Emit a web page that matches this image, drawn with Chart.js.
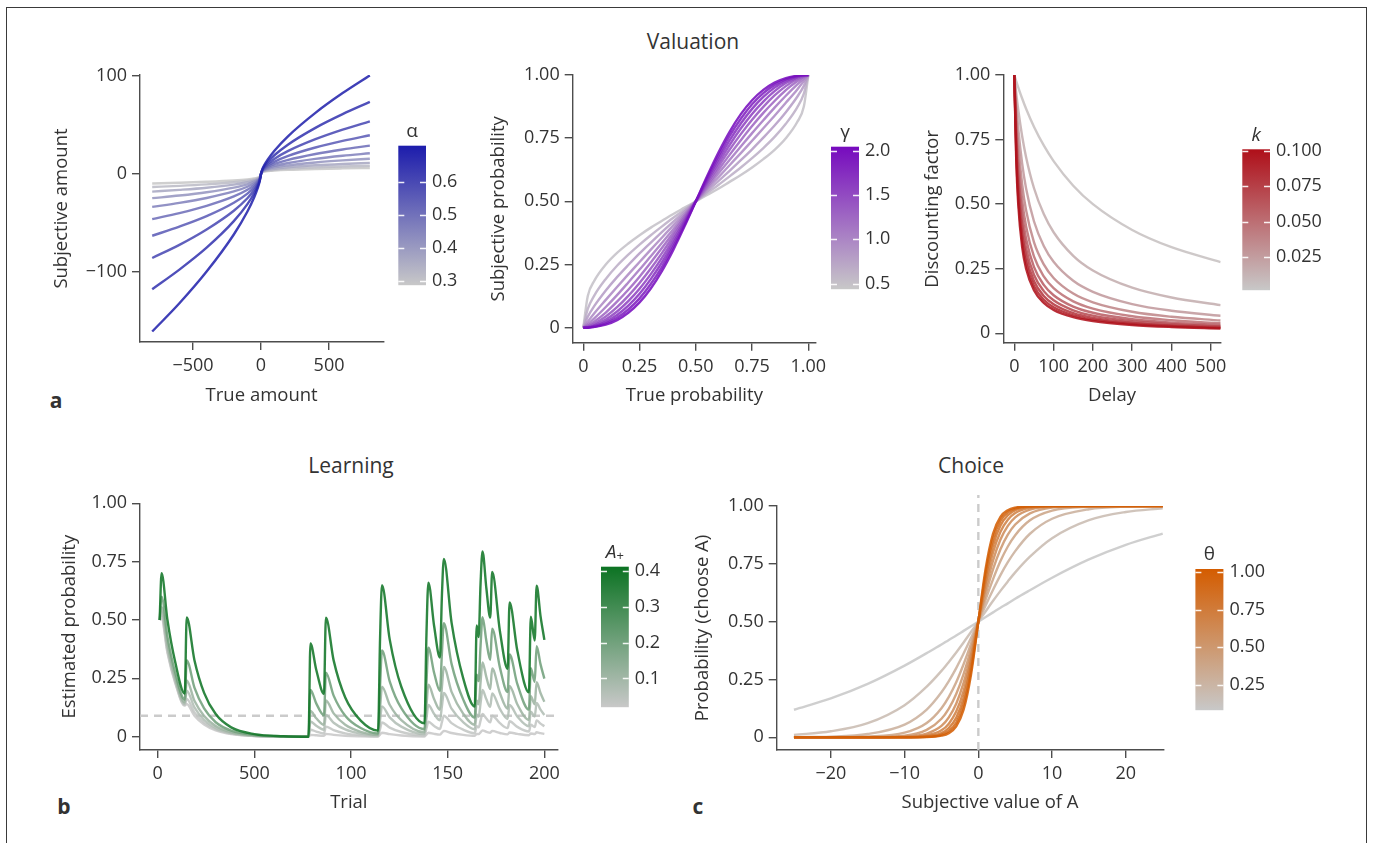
<!DOCTYPE html>
<html><head><meta charset="utf-8">
<script src="https://cdn.jsdelivr.net/npm/chart.js@4.4.0/dist/chart.umd.min.js"></script>
<style>
body{margin:0;background:#fff;width:1373px;height:843px;overflow:hidden;position:relative;font-family:'Open Sans',sans-serif;color:#333}
.frame{position:absolute;left:6px;top:7px;width:1361px;height:900px;border:1.4px solid #3a3a3a;box-sizing:border-box}
canvas{position:absolute}
.lbl{position:absolute;white-space:nowrap;transform:translate(-50%,-50%);line-height:1}
</style></head><body>
<div class="frame"></div>
<div class="lbl" style="left:693px;top:41px;font-size:21px">Valuation</div>
<div class="lbl" style="left:351px;top:465px;font-size:21px">Learning</div>
<div class="lbl" style="left:971px;top:465px;font-size:21px">Choice</div>
<div class="lbl" style="left:56px;top:400px;font-size:21px;font-weight:bold">a</div>
<div class="lbl" style="left:64px;top:806px;font-size:21px;font-weight:bold">b</div>
<div class="lbl" style="left:698px;top:806px;font-size:21px;font-weight:bold">c</div>
<script>
// ---------------- DATA ----------------
// Panel a: subjective amount
const amountX = [-800,-600,-400,-200,-100,-50,-25,-10,0,10,25,50,100,200,400,600,800];
const alphaVals = [0.69,0.643,0.596,0.55,0.503,0.456,0.41,0.363,0.317,0.27];
const subjAmount = [
 [-161.1,-132.2,-99.8,-61.9,-38.4,-23.8,-14.75,-7.84,0,4.90,9.22,14.87,23.99,38.7,62.4,82.6,100.7],
 [-117.8,-97.8,-75.4,-48.3,-30.9,-19.8,-12.67,-7.04,0,4.40,7.92,12.37,19.32,30.16,47.1,61.1,73.6],
 [-85.9,-72.5,-56.8,-37.6,-24.9,-16.5,-10.9,-6.30,0,3.94,6.81,10.29,15.56,23.5,35.5,45.3,53.7],
 [-63.2,-53.9,-43.2,-29.5,-20.1,-13.8,-9.39,-5.68,0,3.55,5.87,8.60,12.59,18.43,26.98,33.7,39.5],
 [-46.2,-40.0,-32.6,-23.0,-16.2,-11.4,-8.08,-5.09,0,3.18,5.05,7.15,10.14,14.37,20.36,25.0,28.86],
 [-33.7,-29.6,-24.6,-17.9,-13.1,-9.52,-6.94,-4.58,0,2.86,4.34,5.95,8.17,11.2,15.36,18.5,21.08],
 [-24.8,-22.1,-18.7,-14.0,-10.6,-7.95,-5.98,-4.11,0,2.57,3.74,4.97,6.61,8.78,11.66,13.8,15.5],
 [-18.1,-16.3,-14.1,-10.9,-8.51,-6.62,-5.15,-3.70,0,2.31,3.22,4.14,5.32,6.84,8.80,10.2,11.32],
 [-13.3,-12.2,-10.7,-8.58,-6.90,-5.54,-4.43,-3.31,0,2.07,2.77,3.46,4.31,5.36,6.68,7.6,8.32],
 [-9.73,-9.0,-8.06,-6.69,-5.55,-4.61,-3.82,-2.98,0,1.86,2.39,2.88,3.47,4.18,5.04,5.62,6.08]
];
const alphaRange = [0.288, 0.709];
const alphaTicks = [0.3,0.4,0.5,0.6];
const alphaLabels = ['0.3','0.4','0.5','0.6'];
const amountXTicks = [-500,0,500], amountXLabels = ['\u2212500','0','500'];
const amountYTicks = [-100,0,100], amountYLabels = ['\u2212100','0','100'];

// Panel: subjective probability
const probX = [0,0.02,0.05,0.1,0.15,0.2,0.25,0.3,0.35,0.4,0.45,0.5,0.55,0.6,0.65,0.7,0.75,0.8,0.85,0.9,0.95,0.98,1];
const gammaVals = [0.5,0.65,0.8,0.95,1.1,1.25,1.4,1.55,1.7,1.85,2.0];
const subjProb = [
 [0,.125,.187,.25,.296,.333,.366,.396,.423,.450,.475,.5,.525,.550,.577,.604,.634,.667,.704,.75,.813,.875,1],
 [0,.074,.129,.193,.245,.289,.329,.366,.401,.435,.467,.5,.533,.565,.599,.634,.671,.711,.755,.807,.871,.926,1],
 [0,.043,.087,.147,.2,.248,.294,.337,.379,.42,.46,.5,.54,.58,.621,.663,.706,.752,.8,.853,.913,.957,1],
 [0,.024,.058,.11,.161,.211,.26,.309,.357,.405,.452,.5,.548,.595,.643,.691,.74,.789,.839,.89,.942,.976,1],
 [0,.014,.038,.082,.129,.179,.23,.283,.336,.39,.445,.5,.555,.61,.664,.717,.77,.821,.871,.918,.962,.986,1],
 [0,.008,.025,.06,.103,.15,.202,.258,.316,.376,.438,.5,.562,.624,.684,.742,.798,.85,.897,.94,.975,.992,1],
 [0,.004,.016,.044,.081,.126,.177,.234,.296,.362,.43,.5,.57,.638,.704,.766,.823,.874,.919,.956,.984,.996,1],
 [0,.002,.01,.032,.064,.105,.154,.212,.277,.348,.423,.5,.577,.652,.723,.788,.846,.895,.936,.968,.99,.998,1],
 [0,.001,.007,.023,.05,.087,.134,.192,.259,.334,.416,.5,.584,.666,.741,.808,.866,.913,.95,.977,.993,.999,1],
 [0,.001,.004,.017,.039,.072,.116,.173,.241,.321,.408,.5,.592,.679,.759,.827,.884,.928,.961,.983,.996,.999,1],
 [0,0,.003,.012,.03,.059,.1,.155,.225,.308,.401,.5,.599,.692,.775,.845,.9,.941,.97,.988,.997,1,1]
];
const gammaRange = [0.437, 2.044];
const gammaTicks = [0.5,1,1.5,2], gammaLabels = ['0.5','1.0','1.5','2.0'];
const probTicks = [0,0.25,0.5,0.75,1], probLabels = ['0','0.25','0.50','0.75','1.00'];

// Panel: discounting
const delayX = [0,5,10,20,30,50,75,100,150,200,300,400,525];
const kVals = [0.005,0.0156,0.0261,0.0367,0.0472,0.0578,0.0683,0.0789,0.0894,0.1];
const discount = [
 [1,.9756,.9524,.9091,.8696,.8,.7273,.6667,.5714,.5,.4,.3333,.2759],
 [1,.9278,.8654,.7627,.6818,.5625,.4615,.3913,.3,.2432,.1765,.1385,.1091],
 [1,.8845,.793,.6569,.5607,.4337,.338,.2769,.2034,.1607,.1132,.0874,.068],
 [1,.8451,.7317,.5769,.4762,.3529,.2667,.2143,.1538,.12,.0833,.0638,.0494],
 [1,.809,.6792,.5143,.4138,.2975,.2202,.1748,.1237,.0957,.0659,.0503,.0388],
 [1,.7759,.6338,.4639,.3659,.2571,.1875,.1475,.1034,.0796,.0545,.0415,.0319],
 [1,.7453,.5941,.4225,.3279,.2264,.1633,.1277,.0889,.0682,.0465,.0353,.0271],
 [1,.7171,.559,.3879,.297,.2022,.1446,.1125,.0779,.0596,.0405,.0307,.0236],
 [1,.691,.5279,.3586,.2715,.1827,.1297,.1006,.0694,.0529,.0359,.0272,.0209],
 [1,.6667,.5,.3333,.25,.1667,.1176,.0909,.0625,.0476,.0323,.0244,.0187]
];
const kRange = [0.00167, 0.101];
const kTicks = [0.025,0.05,0.075,0.1], kLabels = ['0.025','0.050','0.075','0.100'];
const delayTicks = [0,100,200,300,400,500], delayLabels = ['0','100','200','300','400','500'];

// Panel b: learning
const trialX = [1,2,5,9,14,15,19,24,30,38,50,65,78,79,82,86,87,91,97,105,114,115,116,120,126,138,139,140,143,146,147,148,152,158,164,165,166,167,168,170,172,173,177,181,182,186,192,193,195,196,198,200];
const aPlusVals = [0.4,0.2,0.11,0.065,0.03,0.008];
const estProb = [
 [.5,.7,.502,.322,.185,.511,.328,.188,.097,.04,.011,.002,0,.4,.287,.184,.51,.327,.168,.069,.026,.415,.649,.417,.214,.057,.434,.66,.473,.339,.603,.762,.489,.251,.129,.477,.427,.656,.794,.636,.51,.706,.453,.291,.575,.369,.19,.514,.412,.647,.518,.415],
 [.5,.6,.43,.276,.159,.327,.21,.121,.062,.026,.007,.001,0,.2,.143,.092,.274,.176,.09,.037,.014,.211,.369,.237,.122,.032,.226,.381,.273,.196,.357,.486,.312,.16,.082,.266,.238,.39,.512,.41,.329,.463,.297,.191,.352,.226,.116,.293,.235,.388,.311,.249],
 [.5,.555,.398,.255,.147,.241,.154,.089,.046,.019,.005,.001,0,.11,.079,.051,.155,.1,.051,.021,.008,.117,.214,.137,.071,.019,.127,.223,.16,.115,.212,.299,.192,.099,.051,.155,.139,.234,.318,.255,.204,.292,.187,.12,.217,.139,.072,.174,.139,.234,.187,.15],
 [.5,.533,.382,.245,.141,.197,.126,.072,.037,.015,.004,.001,0,.065,.047,.03,.093,.06,.031,.013,.005,.069,.13,.083,.043,.011,.076,.136,.097,.07,.13,.187,.12,.062,.032,.095,.085,.144,.2,.16,.128,.185,.119,.076,.136,.087,.045,.107,.086,.145,.116,.093],
 [.5,.515,.369,.237,.136,.162,.104,.06,.031,.013,.003,.001,0,.03,.022,.014,.043,.028,.014,.006,.002,.032,.061,.039,.02,.005,.035,.064,.046,.033,.062,.09,.058,.03,.015,.045,.04,.069,.097,.078,.062,.09,.058,.037,.066,.042,.022,.051,.041,.07,.056,.045],
 [.5,.504,.361,.232,.133,.14,.09,.052,.027,.011,.003,.001,0,.008,.006,.004,.012,.008,.004,.002,.001,.009,.017,.011,.005,.001,.009,.017,.012,.009,.017,.025,.016,.008,.004,.012,.011,.019,.027,.021,.017,.025,.016,.01,.018,.012,.006,.014,.011,.019,.015,.012]
];
const refLevel = 0.09;
const aPlusRange = [0.0195, 0.4127];
const aPlusTicks = [0.1,0.2,0.3,0.4], aPlusLabels = ['0.1','0.2','0.3','0.4'];
const trialTicks = [0,50,100,150,200], trialLabels = ['0','500','100','150','200'];

// Panel c: choice
const valueX = [-25,-20,-15,-10,-7,-5,-4,-3,-2,-1,0,1,2,3,4,5,7,10,15,20,25];
const thetaVals = [0.08,0.182,0.284,0.387,0.489,0.591,0.693,0.796,0.898,1.0];
const choiceProb = [
 [.119,.168,.231,.31,.364,.401,.421,.44,.46,.48,.5,.52,.54,.56,.579,.599,.636,.69,.769,.832,.881],
 [.010,.026,.061,.139,.219,.287,.326,.367,.41,.455,.5,.545,.59,.633,.674,.713,.781,.861,.939,.974,.99],
 [.001,.003,.014,.055,.12,.195,.243,.299,.362,.429,.5,.571,.638,.701,.757,.805,.88,.945,.986,.997,.999],
 [0,0,.003,.02,.062,.126,.175,.238,.316,.404,.5,.596,.684,.762,.825,.874,.938,.98,.997,1,1],
 [0,0,.001,.007,.032,.08,.124,.187,.273,.38,.5,.62,.727,.813,.876,.92,.968,.993,.999,1,1],
 [0,0,0,.003,.016,.049,.086,.145,.235,.356,.5,.644,.765,.855,.914,.951,.984,.997,1,1,1],
 [0,0,0,.001,.008,.03,.059,.111,.2,.333,.5,.667,.8,.889,.941,.97,.992,.999,1,1,1],
 [0,0,0,0,.004,.018,.04,.084,.169,.311,.5,.689,.831,.916,.96,.982,.996,1,1,1,1],
 [0,0,0,0,.002,.011,.027,.063,.142,.289,.5,.711,.858,.937,.973,.989,.998,1,1,1,1],
 [0,0,0,0,.001,.007,.018,.047,.119,.269,.5,.731,.881,.953,.982,.993,.999,1,1,1,1]
];
const thetaRange = [0.079, 1.0217];
const thetaTicks = [0.25,0.5,0.75,1], thetaLabels = ['0.25','0.50','0.75','1.00'];
const valueTicks = [-20,-10,0,10,20], valueLabels = ['\u221220','\u221210','0','10','20'];
const vlineX = 0;

// ---------------- STYLE / HELPERS ----------------
const FAM = "'Open Sans', sans-serif";
const TXT = '#333333', AXC = '#4d4d4d';
const GRAY = [200,200,200];
const BLUE = [28,28,172], PURPLE = [118,10,190], RED = [175,15,25], GREEN = [12,115,35], ORANGE = [212,92,0];
Chart.defaults.font.family = FAM;
Chart.defaults.color = TXT;

function col(c1, t, a) {
  t = Math.max(0, Math.min(1, t));
  const r = GRAY.map((g, i) => Math.round(g + (c1[i] - g) * t));
  return 'rgba(' + r[0] + ',' + r[1] + ',' + r[2] + ',' + a + ')';
}
function curveSets(xs, rows, params, range, c1) {
  const idx = params.map((p, i) => i).sort((a, b) => params[b] - params[a]);
  return idx.map(i => ({
    data: xs.map((x, j) => ({x: x, y: rows[i][j]})),
    borderColor: col(c1, (params[i] - range[0]) / (range[1] - range[0]), 0.88),
    borderWidth: 2.4, pointRadius: 0, fill: false,
    cubicInterpolationMode: 'monotone'
  }));
}
function setTicks(vals) { return s => { s.ticks = vals.map(v => ({value: v})); }; }

function panel(o) {
  const fs = 18.5, lh = fs * 1.2;
  const left = Math.floor(o.yTitleX - lh / 2);
  const top = Math.floor(o.area.T - 20);
  const right = Math.ceil(o.area.R + 30);
  const bottom = Math.ceil(o.xTitleY + lh / 2 + 2);
  const W = right - left, H = bottom - top;
  const cv = document.createElement('canvas');
  cv.width = W; cv.height = H;
  cv.style.left = left + 'px'; cv.style.top = top + 'px';
  cv.style.width = W + 'px'; cv.style.height = H + 'px';
  document.body.appendChild(cv);
  const yW = o.area.L - left, xH = bottom - o.area.B;
  const ptY = o.yTitleX - left - lh / 2;
  const pbX = bottom - lh / 2 - o.xTitleY;
  const tickFont = {family: FAM, size: 18};
  const titleFont = {family: FAM, size: fs};
  const axisCommon = {
    type: 'linear',
    grid: {display: true, drawOnChartArea: false, drawTicks: true, tickLength: 8, color: AXC, lineWidth: 1.4},
    border: {display: true, color: AXC, width: 1.4}
  };
  const plugins = [];
  if (o.xTitleShift) {
    plugins.push({id: 'shiftTitle', beforeDraw(chart) {
      const s = chart.scales.x;
      if (!s.__patched) {
        const f = s.drawTitle;
        s.drawTitle = function () { const c = this.ctx; c.save(); c.translate(o.xTitleShift, 0); f.apply(this, arguments); c.restore(); };
        s.__patched = true;
      }
    }});
  }
  return new Chart(cv.getContext('2d'), {
    type: 'line',
    data: {datasets: o.datasets},
    options: {
      responsive: false, animation: false, devicePixelRatio: 1, events: [],
      layout: {padding: {left: 0, top: o.area.T - top, right: right - o.area.R, bottom: 0}},
      plugins: {legend: {display: false}, tooltip: {enabled: false}},
      scales: {
        x: Object.assign({}, axisCommon, {
          min: o.x.min, max: o.x.max, afterBuildTicks: setTicks(o.x.ticks),
          afterFit: s => { s.height = xH; },
          ticks: {font: tickFont, color: TXT, padding: 5, maxRotation: 0, minRotation: 0, autoSkip: false,
                  callback: (v, i) => o.x.labels[i]},
          title: {display: true, text: o.x.title, font: titleFont, color: TXT, padding: {top: 0, bottom: pbX}}
        }),
        y: Object.assign({}, axisCommon, {
          min: o.y.min, max: o.y.max, afterBuildTicks: setTicks(o.y.ticks),
          afterFit: s => { s.width = yW; },
          ticks: {font: tickFont, color: TXT, padding: 5, autoSkip: false, callback: (v, i) => o.y.labels[i]},
          title: {display: true, text: o.y.title, font: titleFont, color: TXT, padding: {top: ptY, bottom: 0}}
        })
      }
    },
    plugins: plugins
  });
}

function colorbar(o) {
  const bar = o.bar;
  const left = Math.floor(bar.L) - 2;
  const top = Math.floor(bar.T) - 36;
  const W = Math.ceil(bar.R - left + 72);
  const H = Math.ceil(bar.B - top + 14);
  const cv = document.createElement('canvas');
  cv.width = W; cv.height = H;
  cv.style.left = left + 'px'; cv.style.top = top + 'px';
  cv.style.width = W + 'px'; cv.style.height = H + 'px';
  document.body.appendChild(cv);
  const yW = W - (bar.R - left);
  return new Chart(cv.getContext('2d'), {
    type: 'line',
    data: {datasets: []},
    options: {
      responsive: false, animation: false, devicePixelRatio: 1, events: [],
      layout: {padding: {left: bar.L - left, top: bar.T - top, right: 0, bottom: H - (bar.B - top)}},
      plugins: {legend: {display: false}, tooltip: {enabled: false}},
      scales: {
        x: {type: 'linear', display: false, min: 0, max: 1},
        y: {type: 'linear', position: 'right', min: o.range[0], max: o.range[1],
            afterBuildTicks: setTicks(o.ticks), afterFit: s => { s.width = yW; },
            grid: {display: false, drawTicks: false, tickLength: 0}, border: {display: false},
            ticks: {font: {family: FAM, size: 18}, color: TXT, padding: 6, autoSkip: false,
                    callback: (v, i) => o.labels[i]}}
      }
    },
    plugins: [{id: 'cbar', afterDraw(chart) {
      const c = chart.ctx, a = chart.chartArea, s = chart.scales.y;
      const g = c.createLinearGradient(0, a.bottom, 0, a.top);
      g.addColorStop(0, col(o.c1, 0, 1));
      g.addColorStop(0.5, col(o.c1, 0.5, 1));
      g.addColorStop(1, col(o.c1, 1, 1));
      c.save();
      c.fillStyle = g;
      c.fillRect(a.left, a.top, a.right - a.left, a.bottom - a.top);
      c.strokeStyle = 'rgba(255,255,255,0.9)'; c.lineWidth = 1.3;
      o.ticks.forEach(v => {
        const y = Math.round(s.getPixelForValue(v)) + 0.5;
        c.beginPath();
        c.moveTo(a.left, y); c.lineTo(a.left + 6, y);
        c.moveTo(a.right - 6, y); c.lineTo(a.right, y);
        c.stroke();
      });
      c.fillStyle = TXT; c.textBaseline = 'middle';
      const cx = (a.left + a.right) / 2, ty = a.top - 14;
      if (o.sub) {
        c.font = 'italic 19px ' + FAM;
        const w1 = c.measureText(o.title).width;
        c.font = '13px ' + FAM;
        const w2 = c.measureText(o.sub).width;
        const x0 = cx - (w1 + w2) / 2;
        c.textAlign = 'left';
        c.font = 'italic 19px ' + FAM;
        c.fillText(o.title, x0, ty);
        c.font = '13px ' + FAM;
        c.fillText(o.sub, x0 + w1, ty + 4);
      } else {
        c.textAlign = 'center';
        c.font = (o.italic ? 'italic ' : '') + '19px ' + FAM;
        c.fillText(o.title, cx, ty);
      }
      c.restore();
    }}]
  });
}

// ---------------- PANELS ----------------
panel({
  area: {L: 140, T: 75, R: 383.3, B: 342},
  yTitleX: 62, xTitleY: 396,
  x: {min: -889.7, max: 899, ticks: amountXTicks, labels: amountXLabels, title: 'True amount'},
  y: {min: -171.8, max: 101.1, ticks: amountYTicks, labels: amountYLabels, title: 'Subjective amount'},
  datasets: curveSets(amountX, subjAmount, alphaVals, alphaRange, BLUE)
});
colorbar({bar: {L: 398.3, T: 145.7, R: 426, B: 288}, range: alphaRange, ticks: alphaTicks, labels: alphaLabels, c1: BLUE, title: '\u03b1'});

panel({
  area: {L: 572.7, T: 75, R: 816, B: 342.7},
  yTitleX: 499, xTitleY: 396,
  x: {min: -0.047, max: 1.034, ticks: probTicks, labels: probLabels, title: 'True probability'},
  y: {min: -0.0594, max: 1.0, ticks: probTicks, labels: probLabels, title: 'Subjective probability'},
  datasets: curveSets(probX, subjProb, gammaVals, gammaRange, PURPLE)
});
colorbar({bar: {L: 831, T: 146.7, R: 859, B: 291.7}, range: gammaRange, ticks: gammaTicks, labels: gammaLabels, c1: PURPLE, title: '\u03b3'});

panel({
  area: {L: 1003.3, T: 75, R: 1220.7, B: 342.7},
  yTitleX: 932.5, xTitleY: 396,
  x: {min: -28, max: 525.2, ticks: delayTicks, labels: delayLabels, title: 'Delay'},
  y: {min: -0.0364, max: 1.0, ticks: probTicks, labels: probLabels, title: 'Discounting factor'},
  datasets: curveSets(delayX, discount, kVals, kRange, RED)
});
colorbar({bar: {L: 1242.3, T: 149.3, R: 1270, B: 292.7}, range: kRange, ticks: kTicks, labels: kLabels, c1: RED, title: 'k', italic: true});

const learnX = {min: -9.16, max: 206.9};
const learnSets = curveSets(trialX, estProb, aPlusVals, aPlusRange, GREEN);
learnSets.push({
  data: [{x: learnX.min, y: refLevel}, {x: learnX.max, y: refLevel}],
  borderColor: 'rgba(200,200,200,0.95)', borderWidth: 2.4, borderDash: [8, 6], pointRadius: 0
});
panel({
  area: {L: 140, T: 503.3, R: 557.7, B: 750},
  yTitleX: 70, xTitleY: 803,
  x: {min: learnX.min, max: learnX.max, ticks: trialTicks, labels: trialLabels, title: 'Trial'},
  y: {min: -0.057, max: 1.0, ticks: probTicks, labels: probLabels, title: 'Estimated probability'},
  datasets: learnSets
});
colorbar({bar: {L: 601, T: 566.7, R: 628.8, B: 710}, range: aPlusRange, ticks: aPlusTicks, labels: aPlusLabels, c1: GREEN, title: 'A', sub: '+'});

const choiceY = {min: -0.055, max: 1.0};
const choiceSets = curveSets(valueX, choiceProb, thetaVals, thetaRange, ORANGE);
choiceSets.push({
  data: [{x: vlineX, y: choiceY.min}, {x: vlineX, y: 1.048}],
  borderColor: 'rgba(200,200,200,0.95)', borderWidth: 2.4, borderDash: [8, 6], pointRadius: 0, clip: false
});
panel({
  area: {L: 776.7, T: 506, R: 1163.3, B: 750},
  yTitleX: 703, xTitleY: 803, xTitleShift: 20,
  x: {min: -27.34, max: 25.08, ticks: valueTicks, labels: valueLabels, title: 'Subjective value of A'},
  y: {min: choiceY.min, max: choiceY.max, ticks: probTicks, labels: probLabels, title: 'Probability (choose A)'},
  datasets: choiceSets
});
colorbar({bar: {L: 1195.4, T: 569, R: 1223.4, B: 712.7}, range: thetaRange, ticks: thetaTicks, labels: thetaLabels, c1: ORANGE, title: '\u03b8'});
</script>
</body></html>
